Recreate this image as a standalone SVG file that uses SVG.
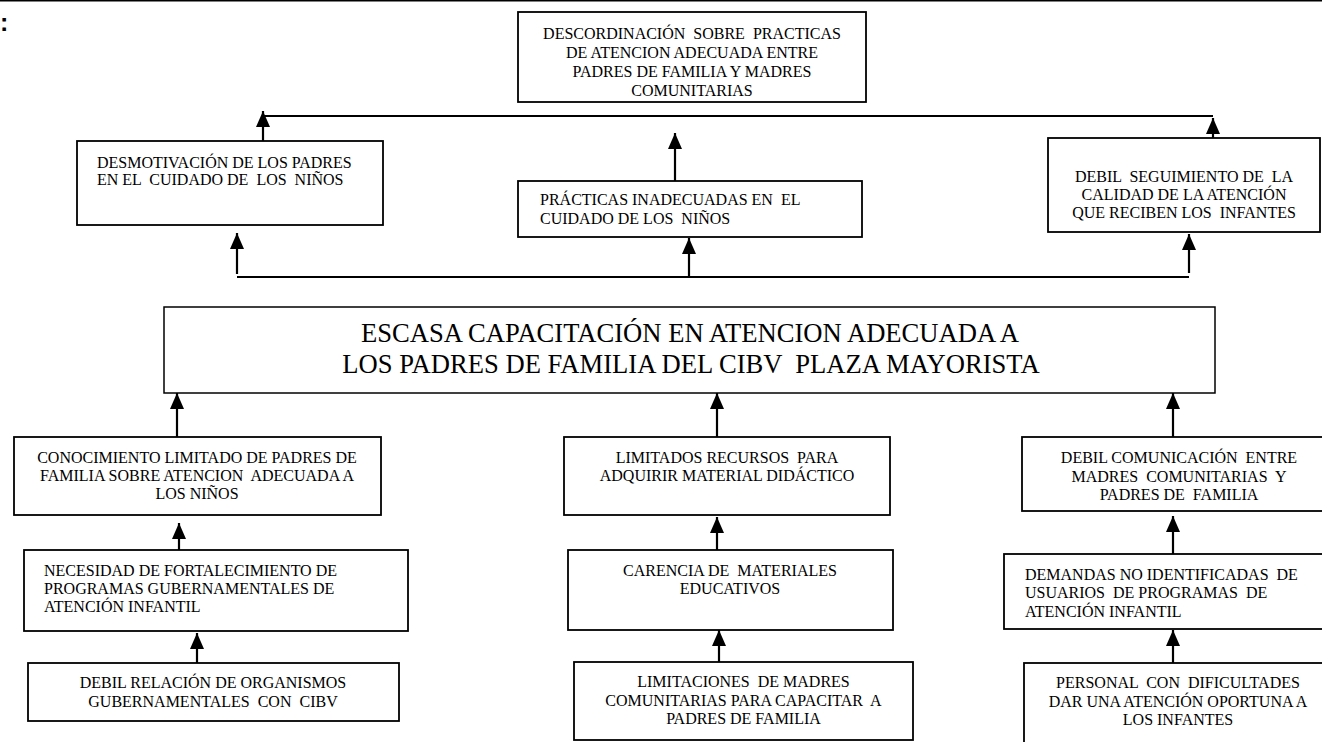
<svg xmlns="http://www.w3.org/2000/svg" width="1322" height="742" viewBox="0 0 1322 742">
<style>
  .box { fill: #ffffff; stroke: #000000; stroke-width: 1.8; }
  .main { fill: #ffffff; stroke: #000000; stroke-width: 1.5; }
  .t { font-family: "Liberation Serif", "Times New Roman", serif; font-size: 16px; fill: #000000; white-space: pre; }
  .c { text-anchor: middle; }
  .title { font-family: "Liberation Serif", "Times New Roman", serif; font-size: 26.6px; fill: #000000; text-anchor: middle; white-space: pre; }
  .arr { stroke: #000000; stroke-width: 2.2; fill: none; marker-end: url(#ah); }
  .ln { stroke: #000000; stroke-width: 2; fill: none; }
</style>
<defs>
  <marker id="ah" viewBox="0 0 16 16" markerWidth="16" markerHeight="16" refX="16" refY="8" orient="auto" markerUnits="userSpaceOnUse">
    <path d="M0,1 L16,8 L0,15 z" fill="#000000"/>
  </marker>
</defs>
<rect x="0" y="0" width="1322" height="742" fill="#ffffff"/>
<line x1="0" y1="0.8" x2="1322" y2="0.8" stroke="#000000" stroke-width="1.6"/>
<text x="0" y="31" font-family="Liberation Sans, Arial, sans-serif" font-size="25" font-weight="bold">:</text>

<g id="connectors">
  <line class="ln" x1="263" y1="116" x2="1213" y2="116"/>
  <line class="arr" x1="263" y1="141" x2="263" y2="111"/>
  <line class="arr" x1="675" y1="181" x2="675" y2="133"/>
  <line class="arr" x1="1213" y1="138" x2="1213" y2="118"/>
  <line class="ln" x1="237" y1="277" x2="1189" y2="277"/>
  <line class="arr" x1="237" y1="274" x2="237" y2="233"/>
  <line class="arr" x1="689" y1="276" x2="689" y2="238"/>
  <line class="arr" x1="1189" y1="273" x2="1189" y2="234"/>
  <line class="arr" x1="177" y1="437" x2="177" y2="393"/>
  <line class="arr" x1="717" y1="437" x2="717" y2="393"/>
  <line class="arr" x1="1173" y1="437" x2="1173" y2="393"/>
  <line class="arr" x1="179" y1="550" x2="179" y2="523"/>
  <line class="arr" x1="717" y1="550" x2="717" y2="517"/>
  <line class="arr" x1="1173" y1="554" x2="1173" y2="516"/>
  <line class="arr" x1="197" y1="663" x2="197" y2="633"/>
  <line class="arr" x1="719" y1="662" x2="719" y2="630"/>
  <line class="arr" x1="1173" y1="663" x2="1173" y2="630"/>
</g>

<g id="n-descordinacion">
  <rect class="box" x="518" y="12" width="348" height="90"/>
  <text class="t c" x="692" y="39">DESCORDINACIÓN  SOBRE  PRACTICAS</text>
  <text class="t c" x="692" y="58">DE ATENCION ADECUADA ENTRE</text>
  <text class="t c" x="692" y="77">PADRES DE FAMILIA Y MADRES</text>
  <text class="t c" x="692" y="96">COMUNITARIAS</text>
</g>

<g id="n-desmotivacion">
  <rect class="box" x="77" y="141" width="306" height="84"/>
  <text class="t" x="97" y="168">DESMOTIVACIÓN DE LOS PADRES</text>
  <text class="t" x="97" y="185">EN EL  CUIDADO DE  LOS  NIÑOS</text>
</g>

<g id="n-practicas">
  <rect class="box" x="518" y="181" width="344" height="56"/>
  <text class="t" x="540" y="205">PRÁCTICAS INADECUADAS EN  EL</text>
  <text class="t" x="540" y="224">CUIDADO DE LOS  NIÑOS</text>
</g>

<g id="n-seguimiento">
  <rect class="box" x="1048" y="138" width="272" height="94"/>
  <text class="t c" x="1184" y="182">DEBIL  SEGUIMIENTO DE  LA</text>
  <text class="t c" x="1184" y="200">CALIDAD DE LA ATENCIÓN</text>
  <text class="t c" x="1184" y="218">QUE RECIBEN LOS  INFANTES</text>
</g>

<g id="n-main">
  <rect class="main" x="164" y="307" width="1051" height="86"/>
  <text class="title" x="690" y="342">ESCASA CAPACITACIÓN EN ATENCION ADECUADA A</text>
  <text class="title" x="691" y="373">LOS PADRES DE FAMILIA DEL CIBV  PLAZA MAYORISTA</text>
</g>

<g id="n-conocimiento">
  <rect class="box" x="14" y="437" width="367" height="78"/>
  <text class="t c" x="197" y="463">CONOCIMIENTO LIMITADO DE PADRES DE</text>
  <text class="t c" x="197" y="481">FAMILIA SOBRE ATENCION  ADECUADA A</text>
  <text class="t c" x="197" y="499">LOS NIÑOS</text>
</g>

<g id="n-necesidad">
  <rect class="box" x="24" y="550" width="384" height="81"/>
  <text class="t" x="44" y="576">NECESIDAD DE FORTALECIMIENTO DE</text>
  <text class="t" x="44" y="594">PROGRAMAS GUBERNAMENTALES DE</text>
  <text class="t" x="44" y="612">ATENCIÓN INFANTIL</text>
</g>

<g id="n-relacion">
  <rect class="box" x="28" y="663" width="371" height="58"/>
  <text class="t c" x="213" y="688">DEBIL RELACIÓN DE ORGANISMOS</text>
  <text class="t c" x="213" y="707">GUBERNAMENTALES  CON  CIBV</text>
</g>

<g id="n-recursos">
  <rect class="box" x="564" y="437" width="326" height="78"/>
  <text class="t c" x="727" y="463">LIMITADOS RECURSOS  PARA</text>
  <text class="t c" x="727" y="481">ADQUIRIR MATERIAL DIDÁCTICO</text>
</g>

<g id="n-carencia">
  <rect class="box" x="568" y="550" width="325" height="80"/>
  <text class="t c" x="730" y="576">CARENCIA DE  MATERIALES</text>
  <text class="t c" x="730" y="594">EDUCATIVOS</text>
</g>

<g id="n-limitaciones">
  <rect class="box" x="574" y="662" width="339" height="78"/>
  <text class="t c" x="743.5" y="687">LIMITACIONES  DE MADRES</text>
  <text class="t c" x="743.5" y="706">COMUNITARIAS PARA CAPACITAR  A</text>
  <text class="t c" x="743.5" y="724">PADRES DE FAMILIA</text>
</g>

<g id="n-comunicacion">
  <rect class="box" x="1022" y="437" width="320" height="74"/>
  <text class="t c" x="1179" y="463">DEBIL COMUNICACIÓN  ENTRE</text>
  <text class="t c" x="1179" y="482">MADRES  COMUNITARIAS  Y</text>
  <text class="t c" x="1179" y="500">PADRES DE  FAMILIA</text>
</g>

<g id="n-demandas">
  <rect class="box" x="1004" y="554" width="340" height="75"/>
  <text class="t" x="1025" y="580">DEMANDAS NO IDENTIFICADAS  DE</text>
  <text class="t" x="1025" y="598">USUARIOS  DE PROGRAMAS  DE</text>
  <text class="t" x="1025" y="617">ATENCIÓN INFANTIL</text>
</g>

<g id="n-personal">
  <rect class="box" x="1024" y="663" width="320" height="90"/>
  <text class="t c" x="1178" y="688">PERSONAL  CON  DIFICULTADES</text>
  <text class="t c" x="1178" y="707">DAR UNA ATENCIÓN OPORTUNA A</text>
  <text class="t c" x="1178" y="725">LOS INFANTES</text>
</g>
</svg>
